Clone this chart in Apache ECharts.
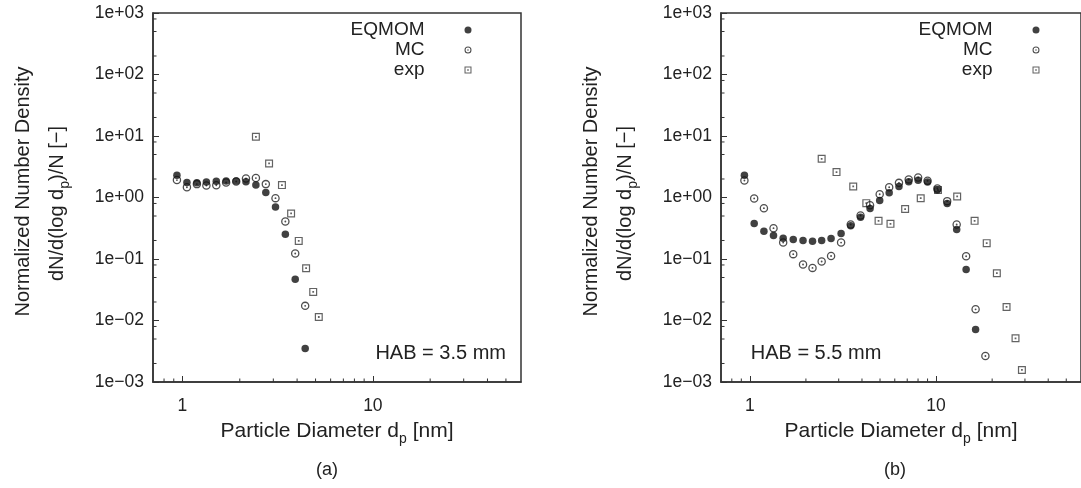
<!DOCTYPE html>
<html>
<head>
<meta charset="utf-8">
<script src="https://cdn.jsdelivr.net/npm/echarts@6/dist/echarts.min.js"></script>
<style>
  html, body { margin: 0; padding: 0; background: #fff; }
  #chart { width: 1081px; height: 488px; }
</style>
</head>
<body>
<div id="chart"></div>
<script>
// Normalized particle size distributions, HAB = 3.5 mm (a) and HAB = 5.5 mm (b)

// (a) HAB = 3.5 mm
const eqmomA_d = [0.935, 1.055, 1.19, 1.335, 1.505, 1.695, 1.915, 2.155, 2.43, 2.74, 3.08, 3.47, 3.91, 4.41];
const eqmomA_n = [2.3, 1.76, 1.73, 1.78, 1.84, 1.85, 1.85, 1.80, 1.59, 1.21, 0.70, 0.253, 0.047, 0.0035];
const mcA_d = [0.935, 1.055, 1.19, 1.335, 1.505, 1.695, 1.915, 2.155, 2.43, 2.74, 3.08, 3.47, 3.91, 4.41];
const mcA_n = [1.92, 1.47, 1.65, 1.57, 1.58, 1.75, 1.82, 2.04, 2.07, 1.65, 0.976, 0.408, 0.123, 0.0173];
const expA_d = [2.43, 2.85, 3.33, 3.72, 4.08, 4.46, 4.86, 5.20];
const expA_n = [9.7, 3.58, 1.59, 0.55, 0.197, 0.0709, 0.0292, 0.0114];

// (b) HAB = 5.5 mm
const eqmomB_d = [0.935, 1.055, 1.19, 1.34, 1.51, 1.71, 1.93, 2.17, 2.43, 2.73, 3.09, 3.48, 3.93, 4.42, 4.98,
                  5.60, 6.32, 7.13, 8.01, 9.0, 10.16, 11.47, 12.9, 14.5, 16.3];
const eqmomB_n = [2.3, 0.378, 0.283, 0.241, 0.218, 0.208, 0.200, 0.195, 0.200, 0.216, 0.260, 0.346, 0.479, 0.664, 0.895,
                  1.19, 1.51, 1.80, 1.90, 1.78, 1.32, 0.80, 0.302, 0.0675, 0.00713];
const mcB_d = [0.935, 1.055, 1.19, 1.34, 1.51, 1.71, 1.93, 2.17, 2.43, 2.73, 3.09, 3.48, 3.93, 4.42, 4.98,
               5.60, 6.32, 7.13, 8.01, 9.0, 10.16, 11.47, 12.9, 14.5, 16.3, 18.4];
const mcB_n = [1.89, 0.966, 0.671, 0.317, 0.185, 0.120, 0.0813, 0.0717, 0.091, 0.112, 0.185, 0.364, 0.51, 0.75, 1.13,
               1.47, 1.73, 1.97, 2.12, 1.87, 1.40, 0.873, 0.364, 0.111, 0.0152, 0.00265];
const expB_d = [2.43, 2.92, 3.59, 4.22, 4.91, 5.69, 6.82, 8.27, 10.24, 12.98, 16.1, 18.7, 21.2, 23.9, 26.7, 28.9];
const expB_n = [4.26, 2.59, 1.51, 0.81, 0.417, 0.373, 0.65, 0.975, 1.32, 1.04, 0.417, 0.181, 0.0587, 0.0166, 0.00514, 0.00157];

// Axes
const xRange = [0.7, 60];
const yRange = [1e-3, 1e3];
const xTickValues = [1, 10];
const xTickLabels = ['1', '10'];
const yTickValues = [1e-3, 1e-2, 1e-1, 1e0, 1e1, 1e2, 1e3];
const yTickLabels = ['1e\u221203', '1e\u221202', '1e\u221201', '1e+00', '1e+01', '1e+02', '1e+03'];
const xMinorTicks = [0.8, 0.9, 2, 3, 4, 5, 6, 7, 8, 9, 20, 30, 40, 50];
const yMinorTicks = [2e-3, 5e-3, 8e-3, 2e-2, 5e-2, 8e-2, 0.2, 0.5, 0.8, 2, 5, 8, 20, 50, 80, 200, 500, 800];

const seriesNames = ['EQMOM', 'MC', 'exp'];
const panelTags = ['(a)', '(b)'];
const habTexts = ['HAB = 3.5 mm', 'HAB = 5.5 mm'];

const FONT = '"Liberation Sans", Arial, Helvetica, sans-serif';
const INK = '#222';
const AXIS = '#333';
const SHIFT = 568;

// ring + centre-dot markers (outer and inner contours wound in opposite directions)
const RING_CIRCLE = 'path://M2,12A10,10 0 1,1 22,12A10,10 0 1,1 2,12Z' +
  'M5,12A7,7 0 1,0 19,12A7,7 0 1,0 5,12Z' +
  'M9.8,12A2.2,2.2 0 1,1 14.2,12A2.2,2.2 0 1,1 9.8,12Z';
const RING_SQUARE = 'path://M0,0H20V20H0Z M3,3V17H17V3Z M7.8,7.8H12.2V12.2H7.8Z';

const zip = (a, b) => a.map((v, i) => [v, b[i]]);

function labelFrom(values, labels, v) {
  let best = 0;
  values.forEach((t, i) => {
    if (Math.abs(Math.log10(t) - Math.log10(v)) < Math.abs(Math.log10(values[best]) - Math.log10(v))) best = i;
  });
  return labels[best];
}

function richFor(size) {
  return {
    t1: { fontSize: size, lineHeight: size, fontFamily: FONT, color: INK, padding: [0, 0, 28, 12] },
    t: { fontSize: size, lineHeight: size, fontFamily: FONT, color: INK, verticalAlign: 'top' },
    tEnd: { fontSize: size, lineHeight: size, fontFamily: FONT, color: INK, verticalAlign: 'top', padding: [0, 12, 0, 0] },
    s: { fontSize: 14, lineHeight: 14, fontFamily: FONT, color: INK, verticalAlign: 'top', padding: [11, 0, 0, 0] }
  };
}

function minorTicks(panel, dir) {
  const vals = dir === 'x' ? xMinorTicks : yMinorTicks;
  return {
    type: 'custom', name: 'minor-' + dir, xAxisIndex: panel, yAxisIndex: panel,
    silent: true, clip: false, z: 4,
    data: vals.map(v => dir === 'x' ? [v, yRange[0]] : [xRange[0], v]),
    renderItem(params, api) {
      const p = api.coord([api.value(0), api.value(1)]);
      const len = 3.5;
      const shape = dir === 'x'
        ? { x1: p[0], y1: p[1], x2: p[0], y2: p[1] - len }
        : { x1: p[0], y1: p[1], x2: p[0] + len, y2: p[1] };
      return { type: 'line', shape, style: { stroke: AXIS, lineWidth: 1 } };
    }
  };
}

const panels = [
  { eq: zip(eqmomA_d, eqmomA_n), mc: zip(mcA_d, mcA_n), ex: zip(expA_d, expA_n) },
  { eq: zip(eqmomB_d, eqmomB_n), mc: zip(mcB_d, mcB_n), ex: zip(expB_d, expB_n) }
];

const grid = [], xAxis = [], yAxis = [], series = [], legend = [], graphic = [];

panels.forEach((p, i) => {
  grid.push({
    left: 153 + i * SHIFT, top: 13, width: 368, height: 369,
    show: true, borderColor: AXIS, borderWidth: 1.5, backgroundColor: 'transparent'
  });
  xAxis.push({
    type: 'log', logBase: 10, gridIndex: i, min: xRange[0], max: xRange[1],
    axisLine: { show: true, lineStyle: { color: AXIS, width: 1.5 } },
    axisTick: { show: true, inside: true, length: 6, lineStyle: { color: AXIS, width: 1 } },
    splitLine: { show: false },
    axisLabel: {
      margin: 15, fontSize: 17.5, fontFamily: FONT, color: INK,
      showMinLabel: false, showMaxLabel: false,
      formatter: v => labelFrom(xTickValues, xTickLabels, v)
    },
    name: '{t|Particle Diameter d}{s|p}{t| [nm]}',
    nameLocation: 'middle', nameGap: 39,
    nameTextStyle: { rich: richFor(21) }
  });
  yAxis.push({
    type: 'log', logBase: 10, gridIndex: i, min: yRange[0], max: yRange[1],
    axisLine: { show: true, lineStyle: { color: AXIS, width: 1.5 } },
    axisTick: { show: true, inside: true, length: 6, lineStyle: { color: AXIS, width: 1 } },
    splitLine: { show: false },
    axisLabel: {
      margin: 9, fontSize: 17.5, fontFamily: FONT, color: INK,
      formatter: v => labelFrom(yTickValues, yTickLabels, v)
    },
    name: '{t1|Normalized Number Density}\n{t|dN/d(log d}{s|p}{tEnd|)/N [\u2212]}',
    nameLocation: 'middle', nameRotate: 90, nameGap: 86,
    nameTextStyle: { rich: richFor(20) }
  });
  series.push(
    { type: 'scatter', name: 'exp', xAxisIndex: i, yAxisIndex: i, data: p.ex,
      symbol: RING_SQUARE, symbolSize: 8, itemStyle: { color: '#3c3c3c' }, z: 2 },
    { type: 'scatter', name: 'MC', xAxisIndex: i, yAxisIndex: i, data: p.mc,
      symbol: RING_CIRCLE, symbolSize: 8.5, itemStyle: { color: '#222' }, z: 3 },
    { type: 'scatter', name: 'EQMOM', xAxisIndex: i, yAxisIndex: i, data: p.eq,
      symbol: 'circle', symbolSize: 7.5, itemStyle: { color: '#111' }, z: 4 },
    minorTicks(i, 'x'),
    minorTicks(i, 'y')
  );
  legend.push({
    data: seriesNames, orient: 'vertical', align: 'right',
    right: 604.5 - i * SHIFT, top: 15.5, itemGap: 1, itemWidth: 7, itemHeight: 7,
    selectedMode: false,
    textStyle: { fontSize: 19, fontFamily: FONT, color: INK, padding: [0, 35, 0, 0] }
  });
  graphic.push(
    { type: 'text', x: i === 0 ? 506 : 750.7, y: 353.5,
      style: { text: habTexts[i], font: '20px ' + FONT, fill: INK,
               align: i === 0 ? 'right' : 'left', verticalAlign: 'middle' } },
    { type: 'text', x: 327 + i * SHIFT, y: 470.5,
      style: { text: panelTags[i], font: '18px ' + FONT, fill: INK, align: 'center', verticalAlign: 'middle' } }
  );
});

const chart = echarts.init(document.getElementById('chart'), null, { renderer: 'canvas' });
chart.setOption({
  animation: false,
  backgroundColor: '#fff',
  textStyle: { fontFamily: FONT },
  grid, xAxis, yAxis, series, legend, graphic
});
</script>
</body>
</html>
